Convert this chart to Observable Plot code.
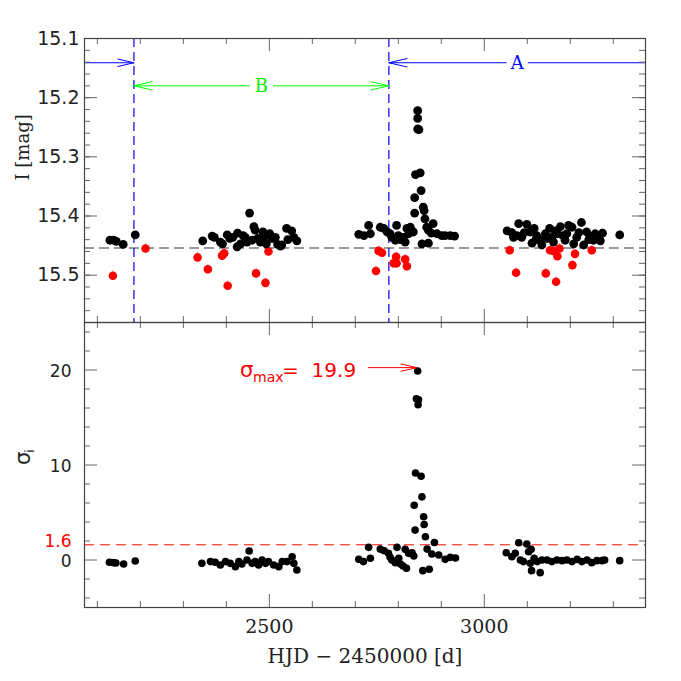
<!DOCTYPE html>
<html><head><meta charset="utf-8">
<script src="https://cdn.jsdelivr.net/npm/d3@7"></script>
<script src="https://cdn.jsdelivr.net/npm/@observablehq/plot@0.6"></script>
<style>
body{margin:0;background:#fff;}
#wrap{position:relative;width:681px;height:681px;background:#fff;}
#wrap svg{position:absolute;left:0;overflow:visible;}
</style></head><body><div id="wrap"></div>
<script>
// ---------- data ----------
// light-curve points used in the fit (black)
const blackT = [2129,2138,2144,2160,2188,
  2345,2367,2372,2386,2391,2402,2408,2415,2426,2425,2433,2439,2444,2448,2454,2460,2464,2467,2473,2479,2485,2487,2493,2501,2506,2514,2519,2526,2529,2540,2543,2552,2557,2564,
  2708,2720,2731,2735,2758,2766,2774,2781,2785,2793,2796,2800,2805,2812,2816,2820,2824,2828,2835,
  2838,2838,2840,2845,2845,2845,2848,2851,2853,2855,2858,2860,2862,2866,2870,2870,2877,2881,2890,2901,2909,2921,2931,
  3053,3064,3068,3076,3080,3087,3093,3099,3107,3111,3116,3120,3122,3130,3134,3142,3146,3152,3157,3161,3165,3170,3177,3183,3188,3192,3196,3204,3208,3215,3220,3226,3231,3238,3243,3247,3254,3258,3264,3270,3275,3315];
const blackMag = [15.441,15.441,15.443,15.448,15.432,
  15.442,15.434,15.436,15.444,15.447,15.432,15.438,15.436,15.429,15.452,15.447,15.433,15.436,15.444,15.395,15.441,15.418,15.424,15.438,15.444,15.427,15.436,15.447,15.430,15.438,15.436,15.448,15.451,15.449,15.421,15.440,15.425,15.436,15.442,
  15.431,15.433,15.416,15.430,15.419,15.421,15.427,15.430,15.436,15.441,15.416,15.433,15.440,15.436,15.444,15.421,15.430,15.419,15.427,
  15.395,15.369,15.330,15.222,15.235,15.253,15.254,15.327,15.357,15.447,15.385,15.391,15.405,15.419,15.424,15.446,15.429,15.413,15.430,15.433,15.433,15.433,15.434,
  15.425,15.428,15.436,15.433,15.413,15.436,15.428,15.414,15.427,15.446,15.421,15.440,15.433,15.441,15.449,15.430,15.438,15.421,15.436,15.444,15.425,15.430,15.418,15.433,15.441,15.430,15.416,15.419,15.447,15.436,15.428,15.411,15.449,15.427,15.440,15.434,15.441,15.430,15.436,15.442,15.429,15.432];
// rejected points (red)
const redT = [2136,2212,2333,2357,2390,2395,2403,2469,2491,2498,2748,2754,2762,2789,2795,2796,2816,2820,3059,3074,3143,3153,3161,3167,3170,3175,3205,3211,3250];
const redMag = [15.501,15.455,15.470,15.490,15.467,15.463,15.518,15.497,15.513,15.460,15.493,15.459,15.462,15.480,15.469,15.480,15.473,15.485,15.458,15.496,15.497,15.458,15.459,15.511,15.468,15.455,15.483,15.464,15.458];
// significance of each point
const sigT = [2128,2138,2143,2161,2188,
  2343,2363,2374,2386,2398,2409,2421,2429,2436,2448,2453,2460,2467,2475,2483,2491,2498,2510,2522,2530,2541,2553,2557,2564,
  2708,2719,2731,2735,2758,2767,2777,2781,2785,2793,2797,2801,2805,2811,2816,2819,2824,2832,2836,
  2837,2839,2840,2842,2845,2846,2847,2853,2855,2857,2859,2860,2863,2867,2872,2878,2884,2894,2909,2921,2933,
  3051,3064,3072,3080,3084,3091,3099,3103,3109,3107,3110,3116,3123,3130,3134,3146,3157,3169,3181,3192,3204,3216,3227,3239,3250,3262,3274,3280,3315];
const sigVal = [-0.24,-0.28,-0.31,-0.42,-0.10,
  -0.35,-0.17,-0.24,-0.52,-0.17,-0.35,-0.70,-0.17,-0.42,0.00,0.94,-0.35,-0.17,-0.52,0.00,-0.35,-0.17,-0.52,-0.70,-0.17,-0.17,0.35,-0.35,-1.05,
  0.07,-0.17,1.33,0.18,1.15,0.98,0.70,0.28,0.00,-0.28,1.33,0.18,-0.42,-0.63,1.12,-0.87,0.70,0.77,0.42,
  5.77,3.15,9.16,16.97,19.9,16.34,16.86,8.81,6.65,-1.12,4.55,3.74,2.45,1.15,-0.98,0.63,1.85,0.52,0.07,0.28,0.21,
  0.77,0.35,0.70,1.82,0.00,-0.17,1.68,0.87,1.12,-0.35,-1.12,0.18,-0.17,-1.33,0.00,0.00,-0.17,0.00,-0.07,0.00,-0.17,0.07,-0.17,0.00,-0.28,-0.07,-0.07,0.00,-0.07];

const baseMag = 15.454;          // baseline magnitude (dashed)
const sigmaThreshold = 1.6;      // detection threshold
const sigmaMax = 19.9;           // peak significance
const sigmaMaxT = 2845;
const epochBounds = [2185, 2778];
const regionLabels = ["B", "A"];
const errBlack = 0.005, errRed = 0.008;

// axes
const xDomain = [2070, 3375];
const magDomain = [15.1, 15.58];
const sigDomain = [-5, 25];
const xMajorTicks = [2500, 3000];
const xMinorTicks = [2100,2200,2300,2400,2600,2700,2800,2900,3100,3200,3300];
const magMajorTicks = [15.1,15.2,15.3,15.4,15.5];
const magMinorTicks = d3.range(15.12, 15.58, 0.02).map(v => +v.toFixed(2));
const sigMajorTicks = [0,10,20];
const sigMinorTicks = [-4,-2,2,4,6,8,12,14,16,18,22,24];

// ---------- helpers ----------
const W = 681, ML = 84, MR = 36;
const PW = W - ML - MR;
const frameColor = "#444", tickColor = "#666";
const serif = "'DejaVu Serif', serif";
const sans = "'DejaVu Sans', 'Liberation Sans', sans-serif";

function frameTicks(PH, yMajor, yMinor) {
  return [
    Plot.tickY(yMinor, {y: d => d, insetRight: PW - 6, stroke: tickColor}),
    Plot.tickY(yMajor, {y: d => d, insetRight: PW - 13, stroke: tickColor}),
    Plot.tickY(yMinor, {y: d => d, insetLeft: PW - 6, stroke: tickColor}),
    Plot.tickY(yMajor, {y: d => d, insetLeft: PW - 13, stroke: tickColor}),
    Plot.tickX(xMinorTicks, {x: d => d, insetBottom: PH - 6, stroke: tickColor}),
    Plot.tickX(xMajorTicks, {x: d => d, insetBottom: PH - 13, stroke: tickColor}),
    Plot.tickX(xMinorTicks, {x: d => d, insetTop: PH - 6, stroke: tickColor}),
    Plot.tickX(xMajorTicks, {x: d => d, insetTop: PH - 13, stroke: tickColor}),
    Plot.frame({stroke: frameColor, strokeWidth: 1.2})
  ];
}

const blackPts = blackT.map((t, i) => ({t, m: blackMag[i]}));
const redPts = redT.map((t, i) => ({t, m: redMag[i]}));
const sigPts = sigT.map((t, i) => ({t, s: sigVal[i]}));

// ---------- top panel ----------
const topH = 322, topMT = 38;
const levelLeft = 15.141, levelB = 15.18;
const midB = (epochBounds[0] + epochBounds[1]) / 2;
const midA = (epochBounds[1] + xDomain[1]) / 2;

const topPlot = Plot.plot({
  width: W, height: topH,
  marginLeft: ML, marginRight: MR, marginTop: topMT, marginBottom: 0,
  x: {domain: xDomain, axis: null},
  y: {domain: magDomain, reverse: true, axis: null},
  style: {fontFamily: sans, fontSize: "19px", background: "transparent", overflow: "visible"},
  marks: [
    Plot.ruleY([baseMag], {stroke: "#777", strokeWidth: 1.5, strokeDasharray: "10,5"}),
    Plot.ruleX(epochBounds, {stroke: "#0000ee", strokeDasharray: "9,5", strokeWidth: 1.2}),
    // left arrow (blue) to first boundary
    Plot.arrow([0], {x1: () => xDomain[0], x2: () => epochBounds[0], y1: () => levelLeft, y2: () => levelLeft,
      stroke: "#0000ff", headLength: 28, headAngle: 26, strokeWidth: 1}),
    // B region (green)
    Plot.arrow(epochBounds.slice(0, 2), {x1: () => midB, x2: d => d, y1: () => levelB, y2: () => levelB,
      stroke: "#00ff00", headLength: 28, headAngle: 26, insetStart: 12, strokeWidth: 1}),
    Plot.text([regionLabels[0]], {x: () => midB, y: () => levelB, fill: "#00ee00", fontFamily: serif, fontSize: 18}),
    // A region (blue)
    Plot.arrow([epochBounds[1]], {x1: () => midA, x2: d => d, y1: () => levelLeft, y2: () => levelLeft,
      stroke: "#0000ff", headLength: 28, headAngle: 26, insetStart: 11, strokeWidth: 1}),
    Plot.arrow([xDomain[1]], {x1: () => midA, x2: d => d, y1: () => levelLeft, y2: () => levelLeft,
      stroke: "#0000ff", headLength: 0, insetStart: 11, strokeWidth: 1}),
    Plot.text([regionLabels[1]], {x: () => midA, y: () => levelLeft, fill: "#0000ff", fontFamily: serif, fontSize: 18}),
    // error bars
    Plot.ruleX(redPts, {x: "t", y1: d => d.m - errRed, y2: d => d.m + errRed, stroke: "#f08080", strokeWidth: 1}),
    Plot.ruleX(blackPts, {x: "t", y1: d => d.m - errBlack, y2: d => d.m + errBlack, stroke: "#b07070", strokeWidth: 1}),
    Plot.dot(redPts, {x: "t", y: "m", r: 4.3, fill: "#ff0000", stroke: "none"}),
    Plot.dot(blackPts, {x: "t", y: "m", r: 4.4, fill: "#000", stroke: "none"}),
    ...frameTicks(topH - topMT, magMajorTicks, magMinorTicks),
    Plot.text(magMajorTicks, {y: d => d, text: d => d.toFixed(1), frameAnchor: "left", textAnchor: "end", dx: -5, fill: "#222"}),
    Plot.text(["I [mag]"], {frameAnchor: "left", dx: -61, rotate: -90, fontFamily: serif, fontSize: 18, fill: "#222"})
  ]
});

// ---------- bottom panel ----------
const botH = 359, botMB = 74;
const bottomPlot = Plot.plot({
  width: W, height: botH,
  marginLeft: ML, marginRight: MR, marginTop: 0, marginBottom: botMB,
  x: {domain: xDomain, axis: null},
  y: {domain: sigDomain, axis: null},
  style: {fontFamily: sans, fontSize: "18px", background: "transparent", overflow: "visible"},
  marks: [
    Plot.ruleY([sigmaThreshold], {stroke: "#ff0000", strokeDasharray: "10,6", strokeWidth: 1}),
    Plot.dot(sigPts, {x: "t", y: "s", r: 3.8, fill: "#000", stroke: "none"}),
    // sigma max annotation
    Plot.arrow([sigmaMaxT], {x1: () => 2730, x2: d => d - 2, y1: () => sigmaMax + 0.35, y2: () => sigmaMax + 0.35,
      stroke: "#ff0000", headLength: 28, headAngle: 26, strokeWidth: 1}),
    Plot.text(["σ"], {x: () => 2432, y: () => sigmaMax, textAnchor: "start", fill: "#ff0000", fontSize: 21, dy: -1}),
    Plot.text(["max"], {x: () => 2432, y: () => sigmaMax, textAnchor: "start", fill: "#ff0000", fontSize: 14, dx: 13, dy: 7}),
    Plot.text([`=  ${sigmaMax.toFixed(1)}`], {x: () => 2432, y: () => sigmaMax, textAnchor: "start", fill: "#ff0000", fontSize: 20, dx: 42, style: "white-space:pre"}),
    ...frameTicks(botH - botMB, sigMajorTicks, sigMinorTicks),
    Plot.text(sigMajorTicks, {y: d => d, text: d => String(d), frameAnchor: "left", textAnchor: "end", dx: -13, dy: 2, fontSize: 17, fill: "#222"}),
    Plot.text([sigmaThreshold], {y: d => d, text: d => d.toFixed(1), frameAnchor: "left", textAnchor: "end", dx: -13, dy: -3, fontSize: 17, fill: "#ff0000"}),
    Plot.text(xMajorTicks, {x: d => d, text: d => String(d), frameAnchor: "bottom", dy: 25, fontFamily: serif, fontSize: 19, fill: "#222"}),
    Plot.text(["HJD − 2450000 [d]"], {frameAnchor: "bottom", dy: 55, fontFamily: serif, fontSize: 20, fill: "#222"}),
    Plot.text(["σ"], {frameAnchor: "left", dx: -61, rotate: -90, fontSize: 21, fill: "#222"}),
    Plot.text(["i"], {frameAnchor: "left", dx: -55, dy: -12, rotate: -90, fontSize: 13, fill: "#222"})
  ]
});

topPlot.style.top = "0px";
bottomPlot.style.top = topH + "px";
document.getElementById("wrap").append(topPlot, bottomPlot);
</script>
</body></html>
